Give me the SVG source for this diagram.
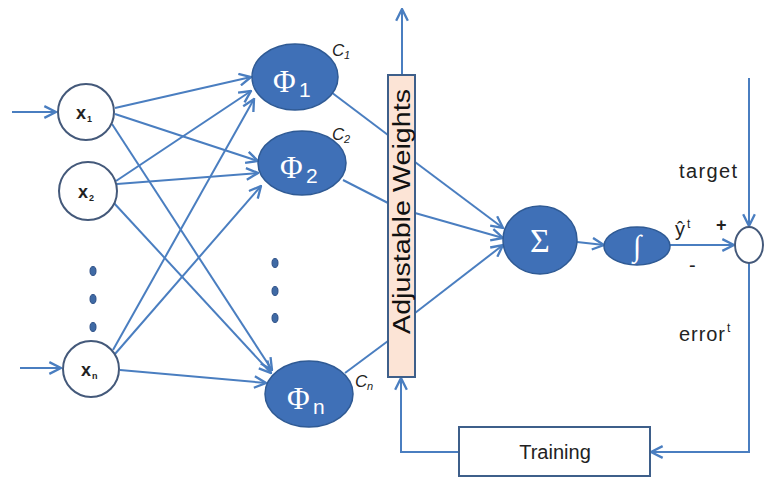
<svg xmlns="http://www.w3.org/2000/svg" width="764" height="477" viewBox="0 0 764 477">
<defs>
<marker id="ah" markerUnits="userSpaceOnUse" markerWidth="14" markerHeight="14" viewBox="0 0 12 12" refX="11" refY="6" orient="auto">
<path d="M1,1 L11,6 L1,11" fill="none" stroke="#4A7EC0" stroke-width="2"/>
</marker>
</defs>
<style>
.ln{stroke:#4A7EC0;stroke-width:2;fill:none}
.arr{marker-end:url(#ah)}
.inp{fill:#fff;stroke:#44597A;stroke-width:2}
.phi{fill:#3F70B7;stroke:#2F5A94;stroke-width:1.5}
.dot{fill:#3F6AA5;stroke:#2F5087;stroke-width:1}
.xl{font-family:"Liberation Sans",Arial,sans-serif;font-weight:bold;font-size:18px;fill:#222}
.xs{font-family:"Liberation Sans",Arial,sans-serif;font-weight:bold;font-size:9px;fill:#222}
.ph{font-family:"Liberation Serif","Times New Roman",serif;font-size:31px;fill:#fff}
.phs{font-family:"Liberation Sans",Arial,sans-serif;font-size:21px;fill:#fff}
.c{font-family:"Liberation Sans",Arial,sans-serif;font-style:italic;font-size:17px;fill:#222}
.cs{font-family:"Liberation Sans",Arial,sans-serif;font-style:italic;font-size:11px;fill:#222}
.lb{font-family:"Liberation Sans",Arial,sans-serif;font-size:20px;fill:#222}
.sup{font-family:"Liberation Sans",Arial,sans-serif;font-size:12px;fill:#222}
</style>
<rect width="764" height="477" fill="#fff"/>
<g id="connectors">
<line class="ln arr" x1="12" y1="112" x2="56" y2="112"/>
<line class="ln arr" x1="20" y1="368" x2="61" y2="368"/>
<line class="ln arr" x1="115" y1="108" x2="251" y2="77"/>
<line class="ln arr" x1="116" y1="181" x2="251" y2="91"/>
<line class="ln arr" x1="113" y1="350" x2="254" y2="99"/>
<line class="ln arr" x1="115" y1="114" x2="258" y2="161"/>
<line class="ln arr" x1="117" y1="184" x2="258" y2="173"/>
<line class="ln arr" x1="115" y1="354" x2="261" y2="186"/>
<line class="ln arr" x1="112" y1="124" x2="272" y2="370"/>
<line class="ln arr" x1="113" y1="202" x2="271" y2="373"/>
<line class="ln arr" x1="120" y1="370" x2="266" y2="383"/>
<line class="ln" x1="331" y1="92" x2="388" y2="135"/>
<line class="ln" x1="343" y1="180" x2="388" y2="203"/>
<line class="ln" x1="345" y1="373" x2="388" y2="341"/>
<line class="ln arr" x1="415" y1="162" x2="503" y2="228"/>
<line class="ln arr" x1="415" y1="213" x2="503" y2="238"/>
<line class="ln arr" x1="415" y1="313" x2="503" y2="245"/>
<line class="ln arr" x1="402" y1="75" x2="402" y2="9"/>
<line class="ln arr" x1="577" y1="242" x2="604" y2="245"/>
<line class="ln arr" x1="670" y1="245" x2="734" y2="245"/>
<line class="ln arr" x1="749" y1="78" x2="749" y2="226"/>
<polyline class="ln arr" points="749,263 749,452 651,452"/>
<polyline class="ln arr" points="459,452 401,452 401,378"/>
</g>
<g id="x1"><circle class="inp" cx="86" cy="112" r="28"/><text x="76" y="119" class="xl">x</text><text x="87" y="122" class="xs">1</text></g>
<g id="x2"><circle class="inp" cx="88" cy="191" r="29"/><text x="78" y="198" class="xl">x</text><text x="89" y="201" class="xs">2</text></g>
<g id="dots-x">
<ellipse class="dot" cx="93" cy="271" rx="3" ry="4.5"/>
<ellipse class="dot" cx="93" cy="299" rx="3" ry="4.5"/>
<ellipse class="dot" cx="93" cy="327" rx="3" ry="4.5"/>
</g>
<g id="xn"><circle class="inp" cx="91" cy="369" r="28"/><text x="81" y="376" class="xl">x</text><text x="92" y="379" class="xs">n</text></g>
<g id="phi1"><ellipse class="phi" cx="295" cy="77" rx="43" ry="33"/><text x="273" y="92" class="ph">Φ</text><text x="299" y="97" class="phs">1</text><text x="332" y="56" class="c">C</text><text x="344" y="59" class="cs">1</text></g>
<g id="phi2"><ellipse class="phi" cx="302" cy="163" rx="44" ry="32"/><text x="280" y="178" class="ph">Φ</text><text x="306" y="183" class="phs">2</text><text x="332" y="140" class="c">C</text><text x="344" y="143" class="cs">2</text></g>
<g id="dots-phi">
<ellipse class="dot" cx="275" cy="263" rx="3" ry="4.5"/>
<ellipse class="dot" cx="275" cy="291" rx="3" ry="4.5"/>
<ellipse class="dot" cx="275" cy="318" rx="3" ry="4.5"/>
</g>
<g id="phin"><ellipse class="phi" cx="309" cy="394" rx="44" ry="33"/><text x="287" y="409" class="ph">Φ</text><text x="313" y="414" class="phs">n</text><text x="355" y="387" class="c">C</text><text x="367" y="390" class="cs">n</text></g>
<g id="weights"><rect x="388" y="75" width="27" height="302" fill="#FCE4D6" stroke="#3E5F8A" stroke-width="2"/><text transform="translate(410,334) rotate(-90)" font-family="'Liberation Sans',Arial,sans-serif" font-size="23" fill="#111" textLength="245" lengthAdjust="spacingAndGlyphs">Adjustable Weights</text></g>
<g id="sum"><ellipse class="phi" cx="540" cy="240" rx="37" ry="34"/><text x="540" y="252" text-anchor="middle" font-family="'Liberation Serif','Times New Roman',serif" font-size="34" fill="#fff">Σ</text></g>
<g id="integral"><ellipse class="phi" cx="637" cy="246" rx="33" ry="19"/><text x="637" y="256" text-anchor="middle" font-family="'Liberation Serif','Times New Roman',serif" font-size="30" fill="#fff">∫</text></g>
<g id="comparator"><ellipse cx="749" cy="245" rx="14" ry="18" fill="#fff" stroke="#44597A" stroke-width="2"/></g>
<g id="labels">
<text x="679" y="178" class="lb" textLength="58">target</text>
<text x="675" y="236" class="lb">ŷ</text><text x="687" y="228" class="sup">t</text>
<text x="716" y="231" class="lb" style="font-weight:bold;font-size:18px">+</text>
<text x="689" y="272" class="lb">-</text>
<text x="679" y="341" class="lb" textLength="46">error</text><text x="727" y="332" class="sup">t</text>
</g>
<g id="training"><rect x="459" y="427" width="191" height="49" fill="#fff" stroke="#3E5F8A" stroke-width="2"/><text x="555" y="459" text-anchor="middle" class="lb">Training</text></g>
</svg>
